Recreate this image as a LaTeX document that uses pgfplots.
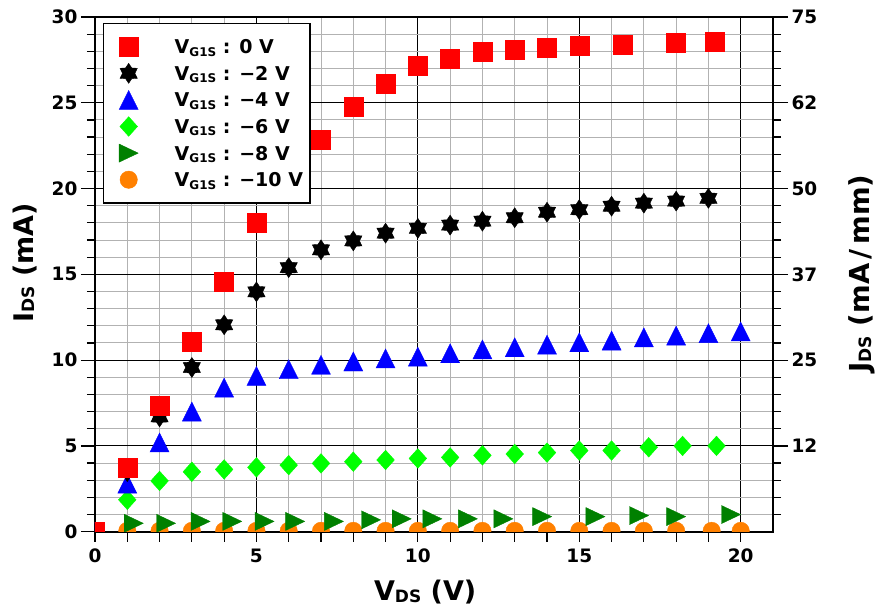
\documentclass[border=0pt]{standalone}
\usepackage{fontspec}
\setmainfont{DejaVu Sans}
\usepackage{pgfplots}
\pgfplotsset{compat=1.18}

\definecolor{redC}{RGB}{255,0,0}
\definecolor{blueC}{RGB}{0,0,255}
\definecolor{limeC}{RGB}{0,255,0}
\definecolor{dgreenC}{RGB}{0,128,0}
\definecolor{orangeC}{RGB}{255,128,0}
\definecolor{minorG}{RGB}{178,178,178}

% six-pointed star, point up
\pgfdeclareplotmark{hexstar}{%
  \pgfpathmoveto{\pgfqpoint{0pt}{\pgfplotmarksize}}%
  \pgfpathlineto{\pgfqpoint{-0.31\pgfplotmarksize}{0.537\pgfplotmarksize}}%
  \pgfpathlineto{\pgfqpoint{-0.866\pgfplotmarksize}{0.5\pgfplotmarksize}}%
  \pgfpathlineto{\pgfqpoint{-0.62\pgfplotmarksize}{0pt}}%
  \pgfpathlineto{\pgfqpoint{-0.866\pgfplotmarksize}{-0.5\pgfplotmarksize}}%
  \pgfpathlineto{\pgfqpoint{-0.31\pgfplotmarksize}{-0.537\pgfplotmarksize}}%
  \pgfpathlineto{\pgfqpoint{0pt}{-\pgfplotmarksize}}%
  \pgfpathlineto{\pgfqpoint{0.31\pgfplotmarksize}{-0.537\pgfplotmarksize}}%
  \pgfpathlineto{\pgfqpoint{0.866\pgfplotmarksize}{-0.5\pgfplotmarksize}}%
  \pgfpathlineto{\pgfqpoint{0.62\pgfplotmarksize}{0pt}}%
  \pgfpathlineto{\pgfqpoint{0.866\pgfplotmarksize}{0.5\pgfplotmarksize}}%
  \pgfpathlineto{\pgfqpoint{0.31\pgfplotmarksize}{0.537\pgfplotmarksize}}%
  \pgfpathclose
  \pgfusepathqfillstroke}
% up triangle centred on its box
\pgfdeclareplotmark{utri}{%
  \pgfpathmoveto{\pgfqpoint{0pt}{\pgfplotmarksize}}%
  \pgfpathlineto{\pgfqpoint{-\pgfplotmarksize}{-\pgfplotmarksize}}%
  \pgfpathlineto{\pgfqpoint{\pgfplotmarksize}{-\pgfplotmarksize}}%
  \pgfpathclose
  \pgfusepathqfillstroke}
% right triangle centred on its box
\pgfdeclareplotmark{rtri}{%
  \pgfpathmoveto{\pgfqpoint{\pgfplotmarksize}{0pt}}%
  \pgfpathlineto{\pgfqpoint{-\pgfplotmarksize}{0.95\pgfplotmarksize}}%
  \pgfpathlineto{\pgfqpoint{-\pgfplotmarksize}{-0.95\pgfplotmarksize}}%
  \pgfpathclose
  \pgfusepathqfillstroke}
% diamond
\pgfdeclareplotmark{dia}{%
  \pgfpathmoveto{\pgfqpoint{0pt}{\pgfplotmarksize}}%
  \pgfpathlineto{\pgfqpoint{-0.9\pgfplotmarksize}{0pt}}%
  \pgfpathlineto{\pgfqpoint{0pt}{-\pgfplotmarksize}}%
  \pgfpathlineto{\pgfqpoint{0.9\pgfplotmarksize}{0pt}}%
  \pgfpathclose
  \pgfusepathqfillstroke}

\newcommand{\lsub}[1]{\raisebox{-2.3pt}{\fontsize{12}{12}\selectfont #1}}
\newcommand{\asub}[1]{\raisebox{-1.8pt}{\fontsize{17}{17}\selectfont #1}}

\begin{document}
\begin{tikzpicture}
\path[use as bounding box] (-95pt,-78.3pt) rectangle (783pt,531.7pt);
\begin{axis}[
  scale only axis, width=678pt, height=514.7pt,
  xmin=0, xmax=21, ymin=0, ymax=30,
  xtick={0,5,...,20}, ytick={0,5,...,30},
  minor x tick num=4, minor y tick num=4,
  xtick pos=bottom, ytick pos=left,
  tick align=outside,
  major tick length=14pt, minor tick length=8pt,
  xtick style={/pgfplots/major tick length=10pt, /pgfplots/minor tick length=10pt},
  every tick/.style={black, line width=1.2pt},
  axis line style={line width=1.8pt},
  grid=both,
  major grid style={black, line width=1pt},
  minor grid style={minorG, line width=1pt},
  /pgf/number format/assume math mode=true,
  tick label style={font=\fontsize{18.5}{20}\selectfont\bfseries},
  xlabel={V\asub{DS} (V)},
  ylabel={I\asub{DS} (mA)},
  label style={font=\fontsize{27}{30}\selectfont\bfseries},
  xlabel style={at={(axis description cs:0.487,-0.1346)}, anchor=base},
  ylabel style={at={(axis description cs:-0.0914,0.522)}, anchor=base},
  clip marker paths=true,
  reverse legend,
  legend cell align=left,
  legend style={at={(axis description cs:0.0118,0.9889)}, anchor=north west,
    draw=black, line width=1.4pt, fill=white,
    inner xsep=7pt, inner ysep=10pt, row sep=0pt, column sep=0pt,
    font=\fontsize{19}{24}\selectfont\bfseries,
    nodes={inner sep=0pt, text height=14pt, text depth=0pt, anchor=west}},
  legend image code/.code={\path[draw=none, fill=none] (-18pt,-13.3pt) rectangle (46pt,13.3pt);
    \draw[#1, line width=0.4pt] plot coordinates {(0pt,0pt)};},
]
% V_G1S = -10 V
\addplot[only marks, mark=*, mark size=8.7pt, mark options={draw=none, fill=orangeC}, color=orangeC]
  coordinates {(1,0.05) (2,0.05) (3,0.05) (4,0.05) (5,0.05) (6,0.05) (7,0.05) (8,0.05) (9,0.05) (10,0.05)
  (11,0.05) (12,0.05) (13,0.05) (14,0.05) (15,0.05) (16,0.05) (17,0.05) (18,0.05) (19.1,0.05) (20,0.05)};
\addlegendentry{V\lsub{G1S} : −10 V}
% V_G1S = -8 V
\addplot[only marks, mark=rtri, mark size=9.5pt, mark options={draw=none, fill=dgreenC}, color=dgreenC]
  coordinates {(1.2,0.49) (2.2,0.49) (3.27,0.6) (4.25,0.6) (5.25,0.6) (6.2,0.6) (7.4,0.6) (8.55,0.69)
  (9.5,0.75) (10.45,0.75) (11.55,0.75) (12.65,0.75) (13.85,0.88) (15.5,0.88) (16.85,0.94) (18.0,0.88) (19.7,1.0)};
\addlegendentry{V\lsub{G1S} : −8 V}
% V_G1S = -6 V
\addplot[only marks, mark=dia, mark size=9.8pt, mark options={draw=none, fill=limeC}, color=limeC]
  coordinates {(1,1.86) (2,2.96) (3,3.49) (4,3.63) (5,3.75) (6,3.88) (7,3.98) (8,4.08) (9,4.18) (10,4.27)
  (11,4.33) (12,4.45) (13,4.53) (14,4.61) (15,4.73) (16,4.73) (17.15,4.92) (18.2,5.0) (19.25,5.0)};
\addlegendentry{V\lsub{G1S} : −6 V}
% V_G1S = -4 V
\addplot[only marks, mark=utri, mark size=9.5pt, mark options={draw=none, fill=blueC}, color=blueC]
  coordinates {(0,0) (1,2.8) (2,5.2) (3,7.0) (4,8.4) (5,9.08) (6,9.47) (7,9.73) (8,9.92) (9,10.1) (10,10.2)
  (11,10.4) (12,10.62) (13,10.75) (14,10.9) (15,11.04) (16,11.14) (17,11.33) (18,11.43) (19,11.57) (20,11.67)};
\addlegendentry{V\lsub{G1S} : −4 V}
% V_G1S = -2 V
\addplot[only marks, mark=hexstar, mark size=10pt, mark options={draw=none, fill=black}, color=black]
  coordinates {(1,3.5) (2,6.69) (3,9.57) (4,12.06) (5,13.98) (6,15.39) (7,16.43) (8,16.95) (9,17.4) (10,17.68)
  (11,17.87) (12,18.1) (13,18.3) (14,18.62) (15,18.77) (16,18.97) (17,19.15) (18,19.27) (19,19.43)};
\addlegendentry{V\lsub{G1S} : −2 V}
% V_G1S = 0 V
\addplot[only marks, mark=square*, mark size=9.5pt, mark options={draw=none, fill=redC}, color=redC]
  coordinates {(0,0) (1,3.73) (2,7.37) (3,11.1) (4,14.6) (5,18.0) (6,20.5) (7,22.85) (8,24.75) (9,26.1)
  (10,27.15) (11,27.55) (12,27.95) (13,28.1) (14,28.2) (15,28.3) (16.35,28.4) (18,28.5) (19.2,28.55)};
\addlegendentry{V\lsub{G1S} : 0 V}
\end{axis}
\begin{axis}[
  scale only axis, width=678pt, height=514.7pt,
  xmin=0, xmax=21, ymin=0, ymax=75,
  axis x line=none, axis y line*=right,
  ytick={12.5,25,37.5,50,62.5,75}, yticklabels={12,25,37,50,62,75},
  minor ytick={2.5,5,...,75},
  tick align=outside,
  major tick length=15pt, minor tick length=8pt,
  every tick/.style={black, line width=1.2pt},
  axis line style={line width=1.8pt},
  /pgf/number format/assume math mode=true,
  tick label style={font=\fontsize{18.5}{20}\selectfont\bfseries},
  ylabel={J\asub{DS} (mA\,/\,mm)},
  label style={font=\fontsize{27.5}{30}\selectfont\bfseries},
  ylabel style={at={(axis description cs:1.143,0.5017)}, anchor=base, rotate=0},
]
\addplot[draw=none] coordinates {(0,0)};
\end{axis}
\end{tikzpicture}
\end{document}
